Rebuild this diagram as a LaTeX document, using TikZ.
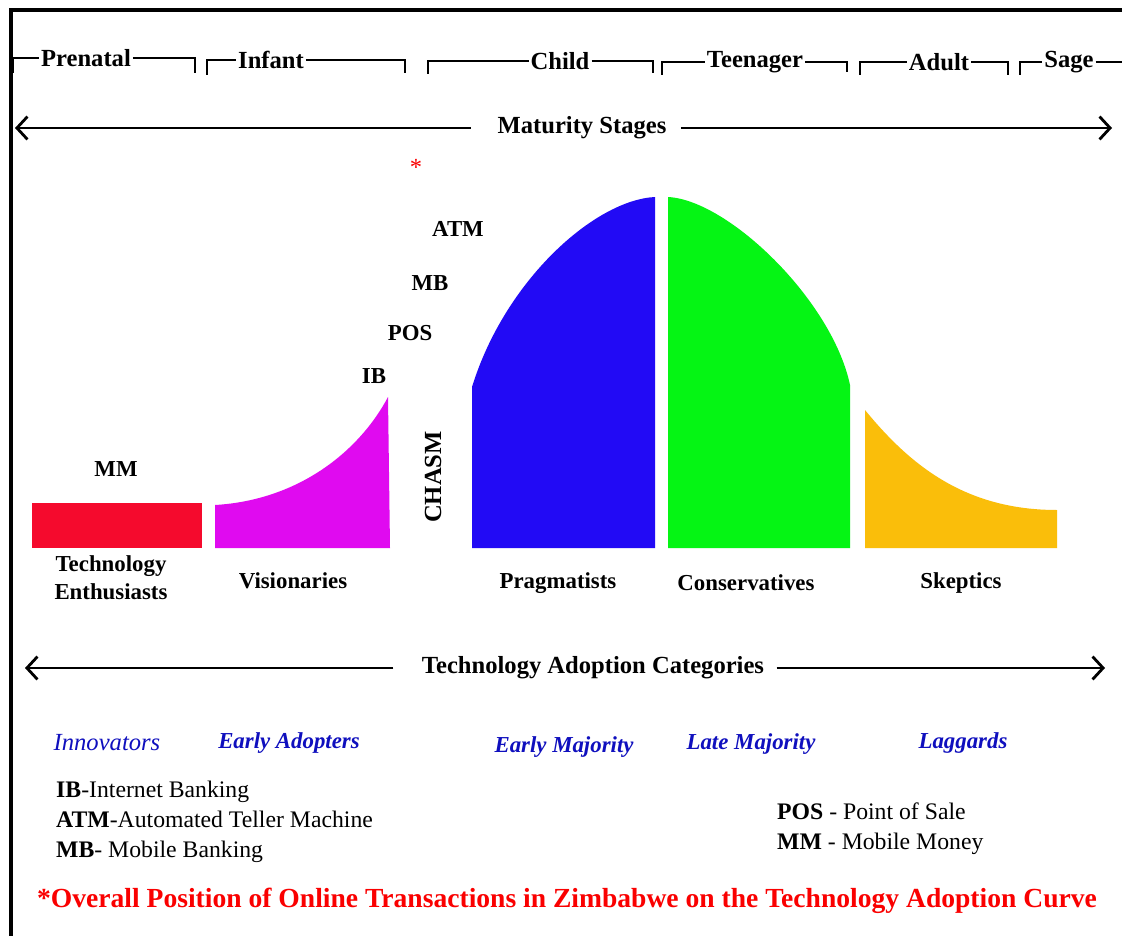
\documentclass[tikz,border=0pt]{standalone}
\usepackage{fontspec}
\setmainfont{Liberation Serif}
\usetikzlibrary{arrows.meta}
\definecolor{enthred}{RGB}{245,10,45}
\definecolor{vismag}{RGB}{224,10,240}
\definecolor{pragblue}{RGB}{34,10,245}
\definecolor{consgreen}{RGB}{5,245,20}
\definecolor{skeporange}{RGB}{250,190,10}
\definecolor{adoptblue}{RGB}{15,15,190}
\definecolor{notered}{RGB}{250,0,0}
\begin{document}
\begin{tikzpicture}[x=0.02cm,y=-0.02cm,
        stage/.style={font=\bfseries\fontsize{14}{16}\selectfont,inner sep=1pt},
        tech/.style={font=\bfseries\fontsize{13}{15}\selectfont},
        cat/.style={font=\bfseries\fontsize{13}{16}\selectfont,align=center},
        adopt/.style={font=\bfseries\itshape\fontsize{13}{15}\selectfont,text=adoptblue},
        legend/.style={font=\fontsize{13.5}{17}\selectfont,align=left,anchor=west},
        bracket/.style={line width=0.9pt},
        longarrow/.style={line width=1.6pt,-{Straight Barb[length=6pt,width=13pt]}}]
        \useasboundingbox (0,0) rectangle (1122,936);
        \fill[white] (0,0) rectangle (1122,936);
        \draw[line width=2.4pt] (11,936) -- (11,10) -- (1122,10);
        % maturity stages
        \node[stage] (pre) at (86,58) {Prenatal};
        \node[stage] (inf) at (271,60) {Infant};
        \node[stage] (chi) at (560,61) {Child};
        \node[stage] (tee) at (755,62) {Teenager};
        \node[stage] (adu) at (939,62) {Adult};
        \node[stage] (sag) at (1069,62) {Sage};
        \draw[bracket] (13,73) |- (pre.west);
        \draw[bracket] (pre.east) -| (195,73);
        \draw[bracket] (207,75) |- (inf.west);
        \draw[bracket] (inf.east) -| (405,73);
        \draw[bracket] (428,74) |- (chi.west);
        \draw[bracket] (chi.east) -| (653,73);
        \draw[bracket] (662,75) |- (tee.west);
        \draw[bracket] (tee.east) -| (847,72);
        \draw[bracket] (860,75) |- (adu.west);
        \draw[bracket] (adu.east) -| (1008,75);
        \draw[bracket] (1020,75) |- (sag.west);
        \draw[bracket] (sag.east) -- +(30,0);
        \node[stage,inner xsep=8pt] (mat) at (582,128) {Maturity Stages};
        \coordinate (matL) at (15,128);
        \coordinate (matR) at (1112,128);
        \draw[longarrow,shorten <=7pt] (mat) -- (matL);
        \draw[longarrow] (mat) -- (matR);
        % adoption curve
        \fill[enthred] (32,503) rectangle (202,548);
        \fill[vismag] (215,548) -- (215,505) .. controls (300,500) and (360,450) .. (388,397) -- (390,548) -- cycle;
        \fill[pragblue] (472,548) -- (472,387) .. controls (505,280) and (595,200) .. (655,197) -- (655,548) -- cycle;
        \fill[consgreen] (668,548) -- (668,197) .. controls (728,200) and (832,300) .. (850,385) -- (850,548) -- cycle;
        \fill[skeporange] (865,548) -- (865,410) .. controls (910,465) and (965,510) .. (1057,510) -- (1057,548) -- cycle;
        \node[tech] (mm) at (116,469) {MM};
        \node[tech] (ib) at (374,376) {IB};
        \node[tech] (pos) at (410,333) {POS};
        \node[tech] (mb) at (430,283) {MB};
        \node[tech] (atm) at (458,229) {ATM};
        \node[font=\fontsize{14}{16}\selectfont,text=notered] (star) at (416,167) {*};
        \node[stage,rotate=90] (chasm) at (433,477) {CHASM};
        \node[cat] (enth) at (111,578) {Technology\\Enthusiasts};
        \node[cat] (vis) at (293,581) {Visionaries};
        \node[cat] (prag) at (558,583) {Pragmatists};
        \node[cat] (cons) at (746,583) {Conservatives};
        \node[cat] (skep) at (961,583) {Skeptics};
        % adoption categories
        \node[stage,inner xsep=7pt] (tac) at (593,668) {Technology Adoption Categories};
        \coordinate (tacL) at (25,668);
        \coordinate (tacR) at (1105,668);
        \draw[longarrow,shorten <=9pt] (tac) -- (tacL);
        \draw[longarrow] (tac) -- (tacR);
        \node[adopt,font=\itshape\fontsize{14}{16}\selectfont] (inn) at (107,743) {Innovators};
        \node[adopt] (ea) at (289,743) {Early Adopters};
        \node[adopt] (em) at (564,747) {Early Majority};
        \node[adopt] (lm) at (751,744) {Late Majority};
        \node[adopt] (lag) at (963,743) {Laggards};
        % legend
        \node[legend] (legL) at (50,822) {\textbf{IB}-Internet Banking\\\textbf{ATM}-Automated Teller Machine\\\textbf{MB}- Mobile Banking};
        \node[legend] (legR) at (771,829) {\textbf{POS} - Point of Sale\\\textbf{MM} - Mobile Money};
        \node[font=\bfseries\fontsize{15.7}{18}\selectfont,text=notered] (title) at (567,901) {*Overall Position of Online Transactions in Zimbabwe on the Technology Adoption Curve};
    \end{tikzpicture}
\end{document}
